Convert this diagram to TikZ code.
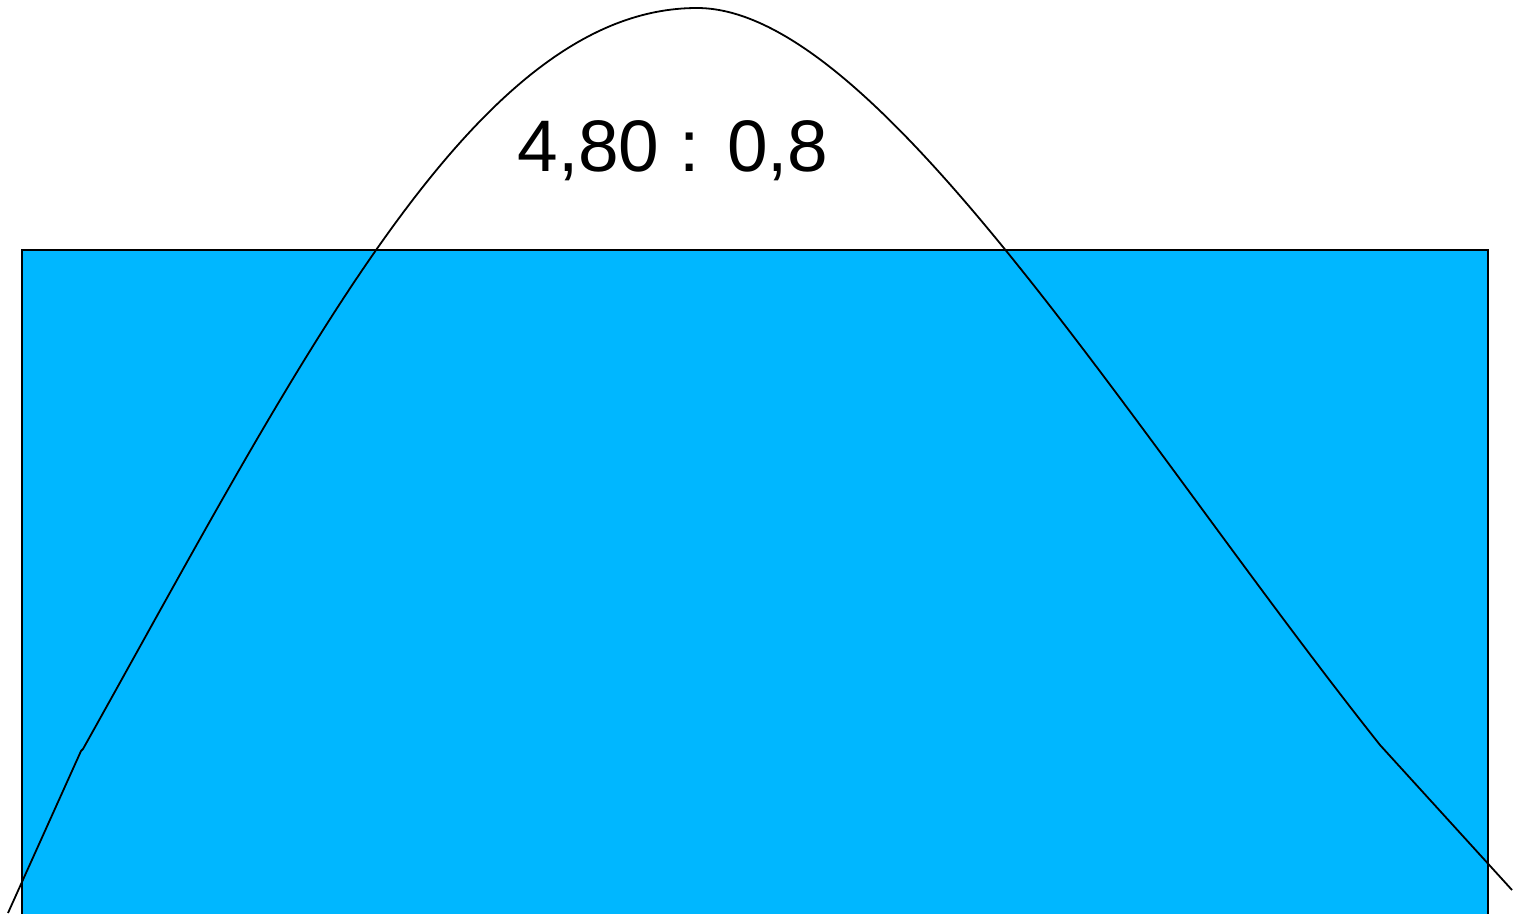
\documentclass[tikz,border=0pt]{standalone}
\usepackage{fontspec}
\setmainfont{Liberation Sans}
\definecolor{water}{HTML}{00B7FF}
\begin{document}
\begin{tikzpicture}[x=1pt,y=-1pt,
  boxstyle/.style={fill=water,draw=black,line width=1.6pt},
  curvestyle/.style={draw=black,line width=1.8pt,line join=round},
  labelstyle/.style={font=\fontsize{73}{78}\selectfont,inner sep=0pt,anchor=base}]
\useasboundingbox (0,0) rectangle (1518,913);
\clip (0,0) rectangle (1518,913);
\coordinate (bl) at (22,950);
\coordinate (tr) at (1488,250);
\draw[boxstyle] (bl) rectangle (tr);
\coordinate (s) at (8,913);
\coordinate (k1) at (81,751);
\coordinate (k2) at (83,749);
\coordinate (top) at (697,8);
\coordinate (k3) at (1380,745);
\coordinate (e) at (1512,890);
\draw[curvestyle] (s) -- (k1) -- (k2)
  .. controls (306,350) and (477,8) .. (top)
  .. controls (877,8) and (1130,430) .. (k3) -- (e);
\node[labelstyle] (lbl) at (673,171) {4,80 : 0,8};
\end{tikzpicture}
\end{document}
